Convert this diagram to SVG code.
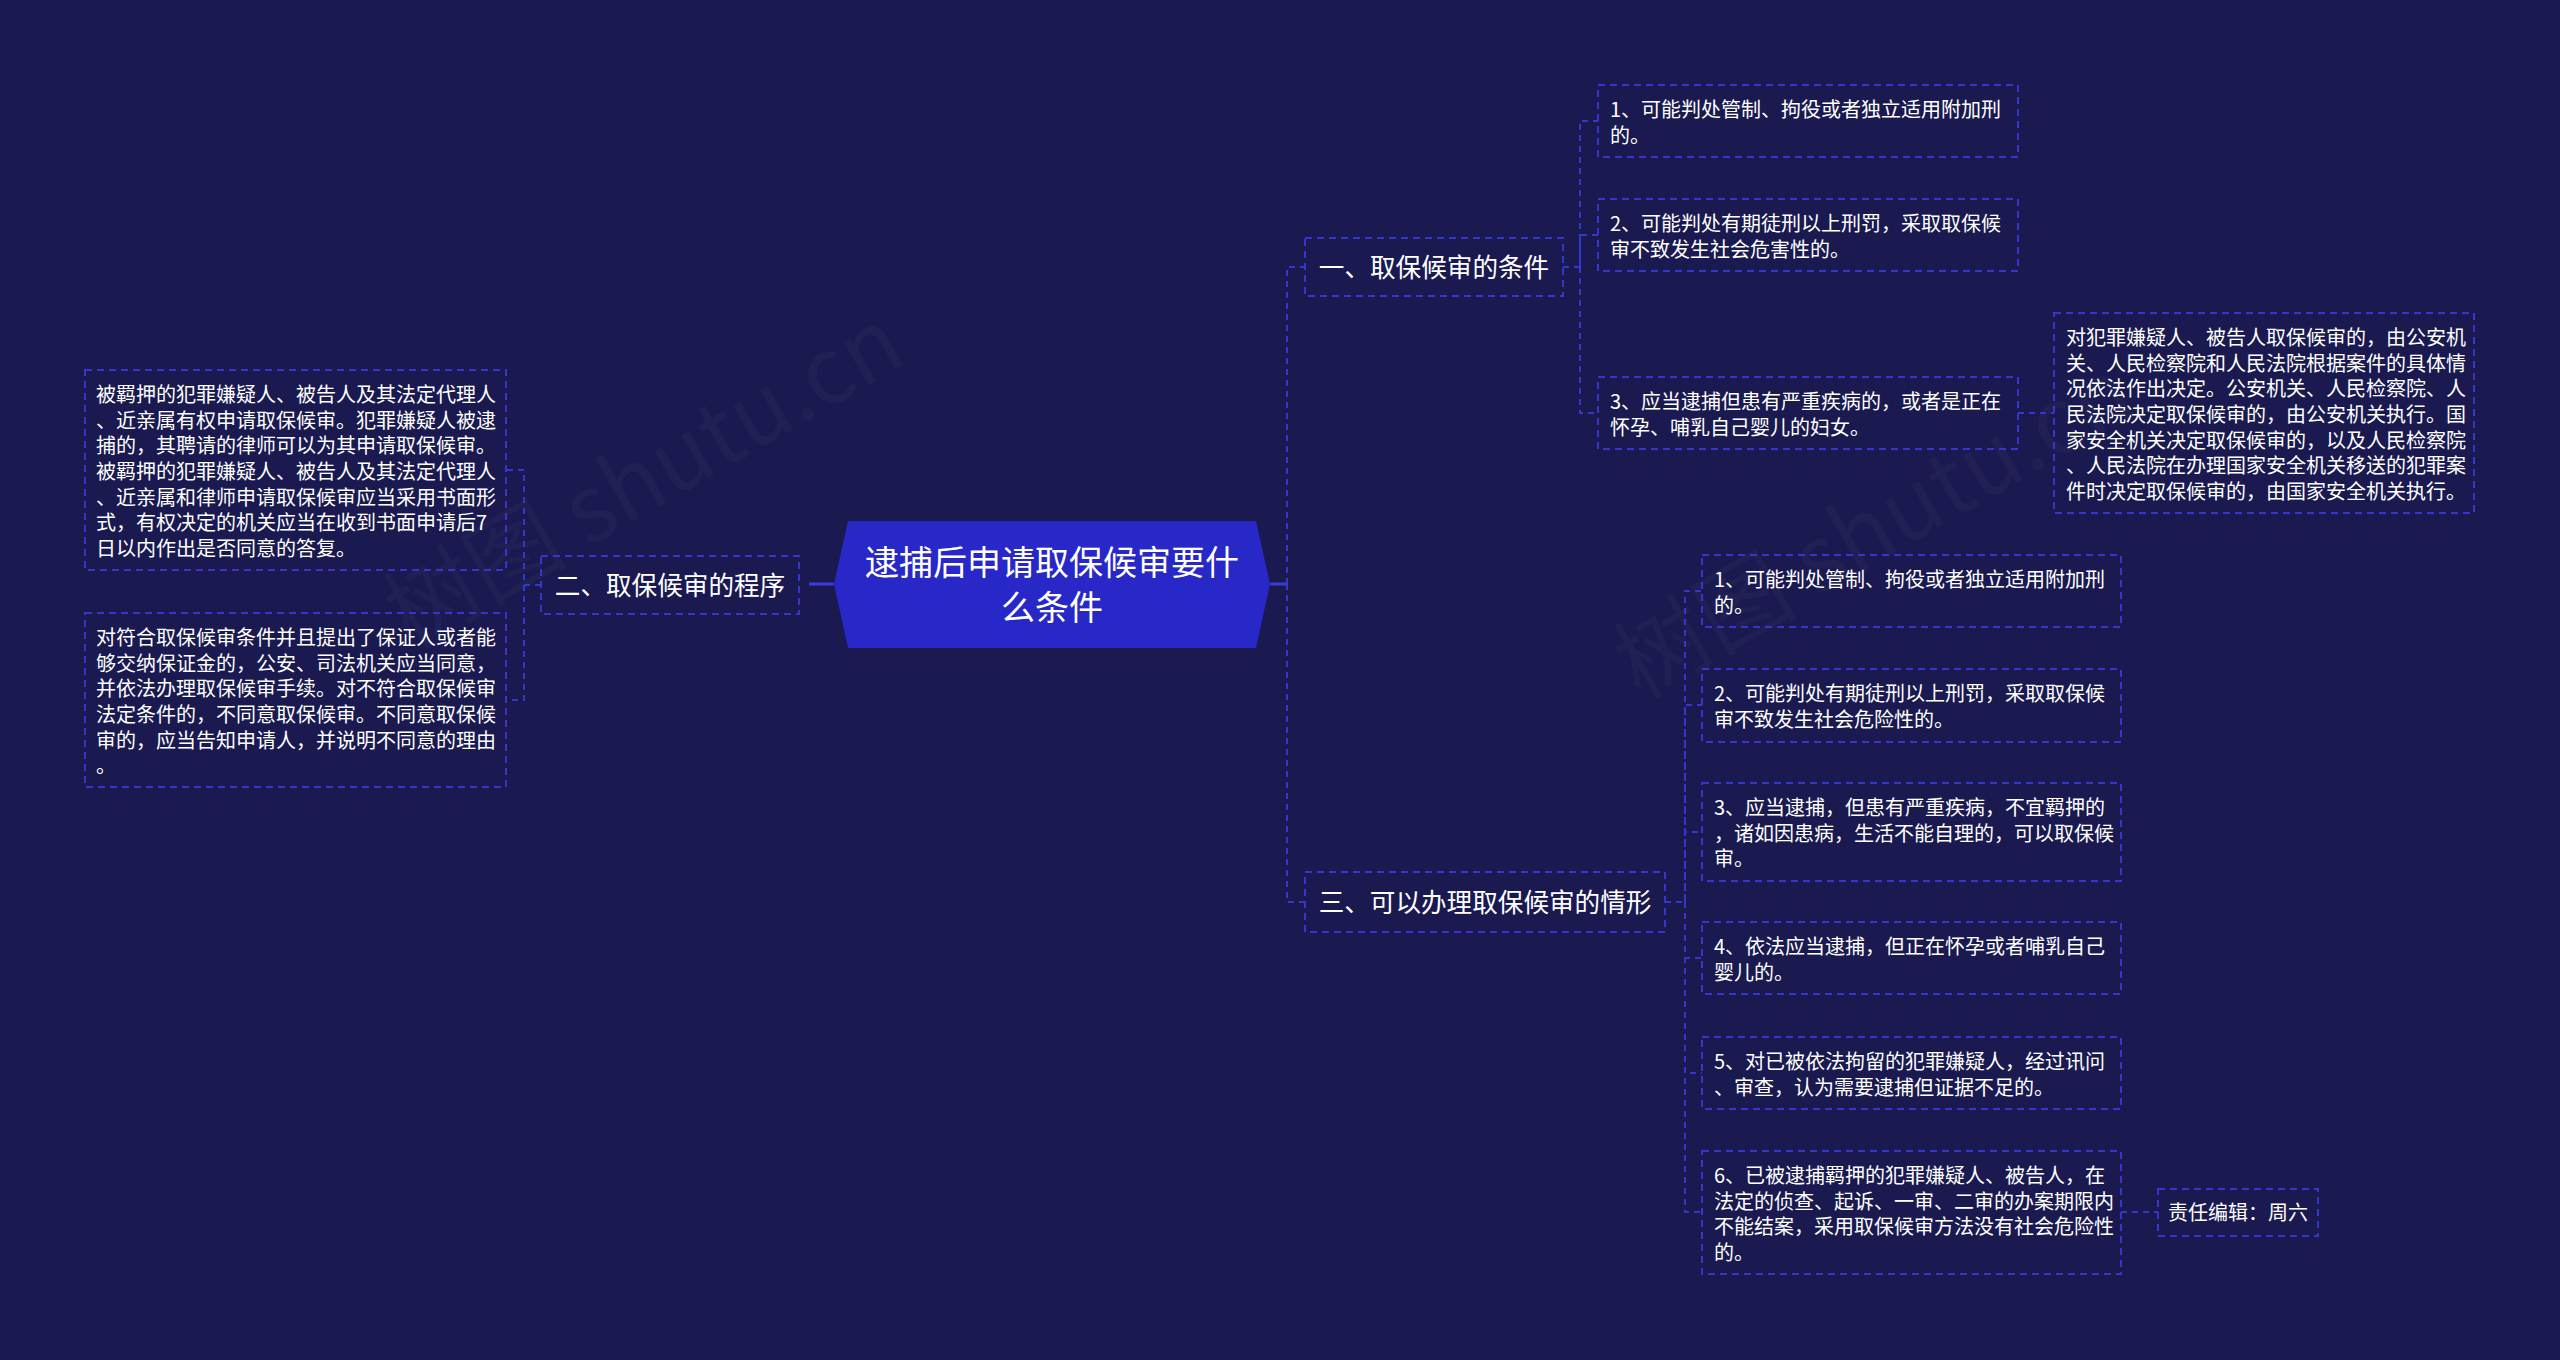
<svg xmlns="http://www.w3.org/2000/svg" width="2560" height="1360" viewBox="0 0 2560 1360">
<style>
.bg{fill:#1a1a50}
.box{fill:none;stroke:#3636cc;stroke-width:2;stroke-dasharray:7 5}
.con{fill:none;stroke:#3636cc;stroke-width:2;stroke-dasharray:6 5}
.solid{fill:none;stroke:#3a3ad6;stroke-width:3}
.t{font-family:"Noto Sans CJK SC","Noto Sans",sans-serif;fill:#ffffff}
.leaf{font-size:20px}
.branch{font-size:25.6px}
.main{font-size:34px}
.wm{font-family:"Noto Sans CJK SC","Liberation Sans",sans-serif;font-size:92px;fill:#ffffff;opacity:0.025}
</style>
<rect class="bg" x="0" y="0" width="2560" height="1360"/>
<g id="watermark">
<text class="wm" transform="translate(410 650) rotate(-30)">树图 shutu.cn</text>
<text class="wm" transform="translate(1640 700) rotate(-30)">树图 shutu.cn</text>
</g>
<g id="connectors">
<path class="solid" d="M809 584 H834"/>
<path class="solid" d="M1270 584 H1287"/>
<path class="con" d="M1287 584 V267 H1305"/>
<path class="con" d="M1287 584 V902 H1305"/>
<path class="con" d="M1563 267 H1580 V121 H1598"/>
<path class="con" d="M1580 267 V235 H1598"/>
<path class="con" d="M1580 267 V413 H1598"/>
<path class="con" d="M2018 413 H2054"/>
<path class="con" d="M541 585 H524 V470 H506"/>
<path class="con" d="M524 585 V700 H506"/>
<path class="con" d="M1665 902 H1685 V591 H1702"/>
<path class="con" d="M1685 902 V705 H1702"/>
<path class="con" d="M1685 902 V832 H1702"/>
<path class="con" d="M1685 902 V958 H1702"/>
<path class="con" d="M1685 902 V1073 H1702"/>
<path class="con" d="M1685 902 V1212 H1702"/>
<path class="con" d="M2121 1212 H2158"/>
</g>
<g id="root">
<polygon points="848,521 1256,521 1270,584 1256,648 848,648 834,584" fill="#2828c8"/>
<text class="t main" text-anchor="middle" x="1052" y="575">逮捕后申请取保候审要什</text>
<text class="t main" text-anchor="middle" x="1052" y="620">么条件</text>
</g>
<g id="b1">
<rect class="box" x="1305" y="238" width="258" height="58"/>
<text class="t branch" text-anchor="middle" x="1434" y="277">一、取保候审的条件</text>
</g>
<g id="b1-1">
<rect class="box" x="1598" y="85" width="420" height="72"/>
<text class="t leaf" x="1610"><tspan x="1610" y="117">1、可能判处管制、拘役或者独立适用附加刑</tspan><tspan x="1610" y="143">的。</tspan></text>
</g>
<g id="b1-2">
<rect class="box" x="1598" y="199" width="420" height="72"/>
<text class="t leaf" x="1610"><tspan x="1610" y="231">2、可能判处有期徒刑以上刑罚，采取取保候</tspan><tspan x="1610" y="257">审不致发生社会危害性的。</tspan></text>
</g>
<g id="b1-3">
<rect class="box" x="1598" y="377" width="420" height="72"/>
<text class="t leaf" x="1610"><tspan x="1610" y="409">3、应当逮捕但患有严重疾病的，或者是正在</tspan><tspan x="1610" y="435">怀孕、哺乳自己婴儿的妇女。</tspan></text>
</g>
<g id="b1-3-1">
<rect class="box" x="2054" y="313" width="420" height="200"/>
<text class="t leaf" x="2066"><tspan x="2066" y="345">对犯罪嫌疑人、被告人取保候审的，由公安机</tspan><tspan x="2066" y="371">关、人民检察院和人民法院根据案件的具体情</tspan><tspan x="2066" y="396">况依法作出决定。公安机关、人民检察院、人</tspan><tspan x="2066" y="422">民法院决定取保候审的，由公安机关执行。国</tspan><tspan x="2066" y="448">家安全机关决定取保候审的，以及人民检察院</tspan><tspan x="2066" y="473">、人民法院在办理国家安全机关移送的犯罪案</tspan><tspan x="2066" y="499">件时决定取保候审的，由国家安全机关执行。</tspan></text>
</g>
<g id="b2">
<rect class="box" x="541" y="556" width="258" height="58"/>
<text class="t branch" text-anchor="middle" x="670" y="595">二、取保候审的程序</text>
</g>
<g id="b2-1">
<rect class="box" x="85" y="370" width="421" height="200"/>
<text class="t leaf" x="96"><tspan x="96" y="402">被羁押的犯罪嫌疑人、被告人及其法定代理人</tspan><tspan x="96" y="428">、近亲属有权申请取保候审。犯罪嫌疑人被逮</tspan><tspan x="96" y="453">捕的，其聘请的律师可以为其申请取保候审。</tspan><tspan x="96" y="479">被羁押的犯罪嫌疑人、被告人及其法定代理人</tspan><tspan x="96" y="505">、近亲属和律师申请取保候审应当采用书面形</tspan><tspan x="96" y="530">式，有权决定的机关应当在收到书面申请后7</tspan><tspan x="96" y="556">日以内作出是否同意的答复。</tspan></text>
</g>
<g id="b2-2">
<rect class="box" x="85" y="613" width="421" height="174"/>
<text class="t leaf" x="96"><tspan x="96" y="645">对符合取保候审条件并且提出了保证人或者能</tspan><tspan x="96" y="671">够交纳保证金的，公安、司法机关应当同意，</tspan><tspan x="96" y="696">并依法办理取保候审手续。对不符合取保候审</tspan><tspan x="96" y="722">法定条件的，不同意取保候审。不同意取保候</tspan><tspan x="96" y="748">审的，应当告知申请人，并说明不同意的理由</tspan><tspan x="96" y="773">。</tspan></text>
</g>
<g id="b3">
<rect class="box" x="1305" y="872" width="360" height="60"/>
<text class="t branch" text-anchor="middle" x="1485" y="912">三、可以办理取保候审的情形</text>
</g>
<g id="b3-1">
<rect class="box" x="1702" y="555" width="419" height="72"/>
<text class="t leaf" x="1714"><tspan x="1714" y="587">1、可能判处管制、拘役或者独立适用附加刑</tspan><tspan x="1714" y="613">的。</tspan></text>
</g>
<g id="b3-2">
<rect class="box" x="1702" y="669" width="419" height="73"/>
<text class="t leaf" x="1714"><tspan x="1714" y="701">2、可能判处有期徒刑以上刑罚，采取取保候</tspan><tspan x="1714" y="727">审不致发生社会危险性的。</tspan></text>
</g>
<g id="b3-3">
<rect class="box" x="1702" y="783" width="419" height="98"/>
<text class="t leaf" x="1714"><tspan x="1714" y="815">3、应当逮捕，但患有严重疾病，不宜羁押的</tspan><tspan x="1714" y="841">，诸如因患病，生活不能自理的，可以取保候</tspan><tspan x="1714" y="866">审。</tspan></text>
</g>
<g id="b3-4">
<rect class="box" x="1702" y="922" width="419" height="72"/>
<text class="t leaf" x="1714"><tspan x="1714" y="954">4、依法应当逮捕，但正在怀孕或者哺乳自己</tspan><tspan x="1714" y="980">婴儿的。</tspan></text>
</g>
<g id="b3-5">
<rect class="box" x="1702" y="1037" width="419" height="72"/>
<text class="t leaf" x="1714"><tspan x="1714" y="1069">5、对已被依法拘留的犯罪嫌疑人，经过讯问</tspan><tspan x="1714" y="1095">、审查，认为需要逮捕但证据不足的。</tspan></text>
</g>
<g id="b3-6">
<rect class="box" x="1702" y="1151" width="419" height="123"/>
<text class="t leaf" x="1714"><tspan x="1714" y="1183">6、已被逮捕羁押的犯罪嫌疑人、被告人，在</tspan><tspan x="1714" y="1209">法定的侦查、起诉、一审、二审的办案期限内</tspan><tspan x="1714" y="1234">不能结案，采用取保候审方法没有社会危险性</tspan><tspan x="1714" y="1260">的。</tspan></text>
</g>
<g id="b3-6-1">
<rect class="box" x="2158" y="1189" width="160" height="47"/>
<text class="t leaf" x="2168" y="1220">责任编辑：周六</text>
</g>
</svg>
